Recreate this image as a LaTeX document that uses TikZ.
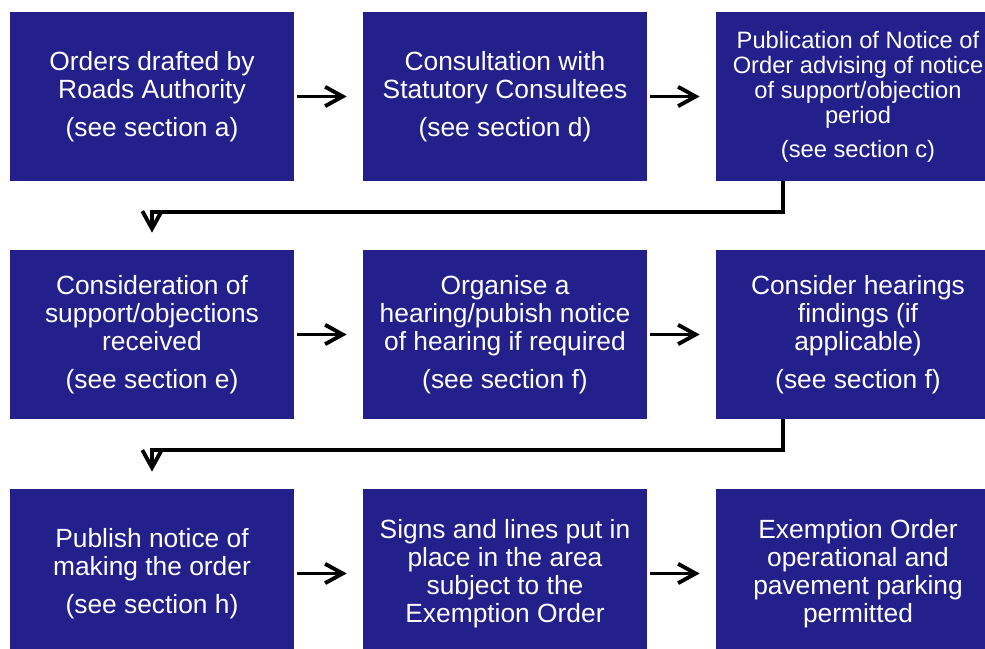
\documentclass[tikz,border=0pt]{standalone}
\usepackage{fontspec}
\setmainfont{Liberation Sans}
\usetikzlibrary{arrows.meta}
\definecolor{boxblue}{RGB}{35,32,139}

\begin{document}
\begin{tikzpicture}[x=0.02cm, y=0.02cm,
  stagebox/.style={fill=boxblue, text=white, minimum width=5.68cm, minimum height=3.38cm,
    inner sep=0pt, align=center, font={\fontsize{15}{15.9}\selectfont}},
  smalltext/.style={font={\fontsize{13.5}{14.2}\selectfont}},
  flow/.style={-{Straight Barb[length=10pt,width=11pt]}, line width=2.2pt,
    shorten <=0.06cm, shorten >=0.32cm},
  elbow/.style={-{Straight Barb[length=10pt,width=11pt]}, line width=2.2pt, shorten >=0.34cm}]
  \useasboundingbox (0,0) rectangle (985,649);
  \clip (0,0) rectangle (985,649);

  % --- Rad 1 ---
  \node[stagebox] (draft) at (152,552.5) {Orders drafted by\\Roads Authority\\[5.7pt](see section a)};
  \node[stagebox] (consult) at (505,552.5) {Consultation with\\Statutory Consultees\\[5.7pt](see section d)};
  \node[stagebox, smalltext] (publish) at (858,552.5) {Publication of Notice of\\Order advising of notice\\of support/objection\\period\\[5.1pt](see section c)};
  \draw[flow] (draft) -- (consult);
  \draw[flow] (consult) -- (publish);

  % --- Rad 2 ---
  \node[stagebox] (consider) at (152,314.5) {Consideration of\\support/objections\\received\\[5.7pt](see section e)};
  \node[stagebox] (hearing) at (505,314.5) {Organise a\\hearing/pubish notice\\of hearing if required\\[5.7pt](see section f)};
  \node[stagebox] (findings) at (858,314.5) {Consider hearings\\findings (if\\applicable)\\[5.7pt](see section f)};
  \draw[flow] (consider) -- (hearing);
  \draw[flow] (hearing) -- (findings);

  % --- Rad 3 ---
  \node[stagebox] (making) at (152,75.5) {Publish notice of\\making the order\\[5.7pt](see section h)};
  \node[stagebox] (signs) at (505,75.5) {Signs and lines put in\\place in the area\\subject to the\\Exemption Order};
  \node[stagebox] (operational) at (858,75.5) {Exemption Order\\operational and\\pavement parking\\permitted};
  \draw[flow] (making) -- (signs);
  \draw[flow] (signs) -- (operational);

  % Knekte piler mellom radene
  \draw[elbow] ([xshift=-1.5cm]publish.south) -- ++(0,-31) -| (consider.north);
  \draw[elbow] ([xshift=-1.5cm]findings.south) -- ++(0,-31) -| (making.north);
\end{tikzpicture}
\end{document}
